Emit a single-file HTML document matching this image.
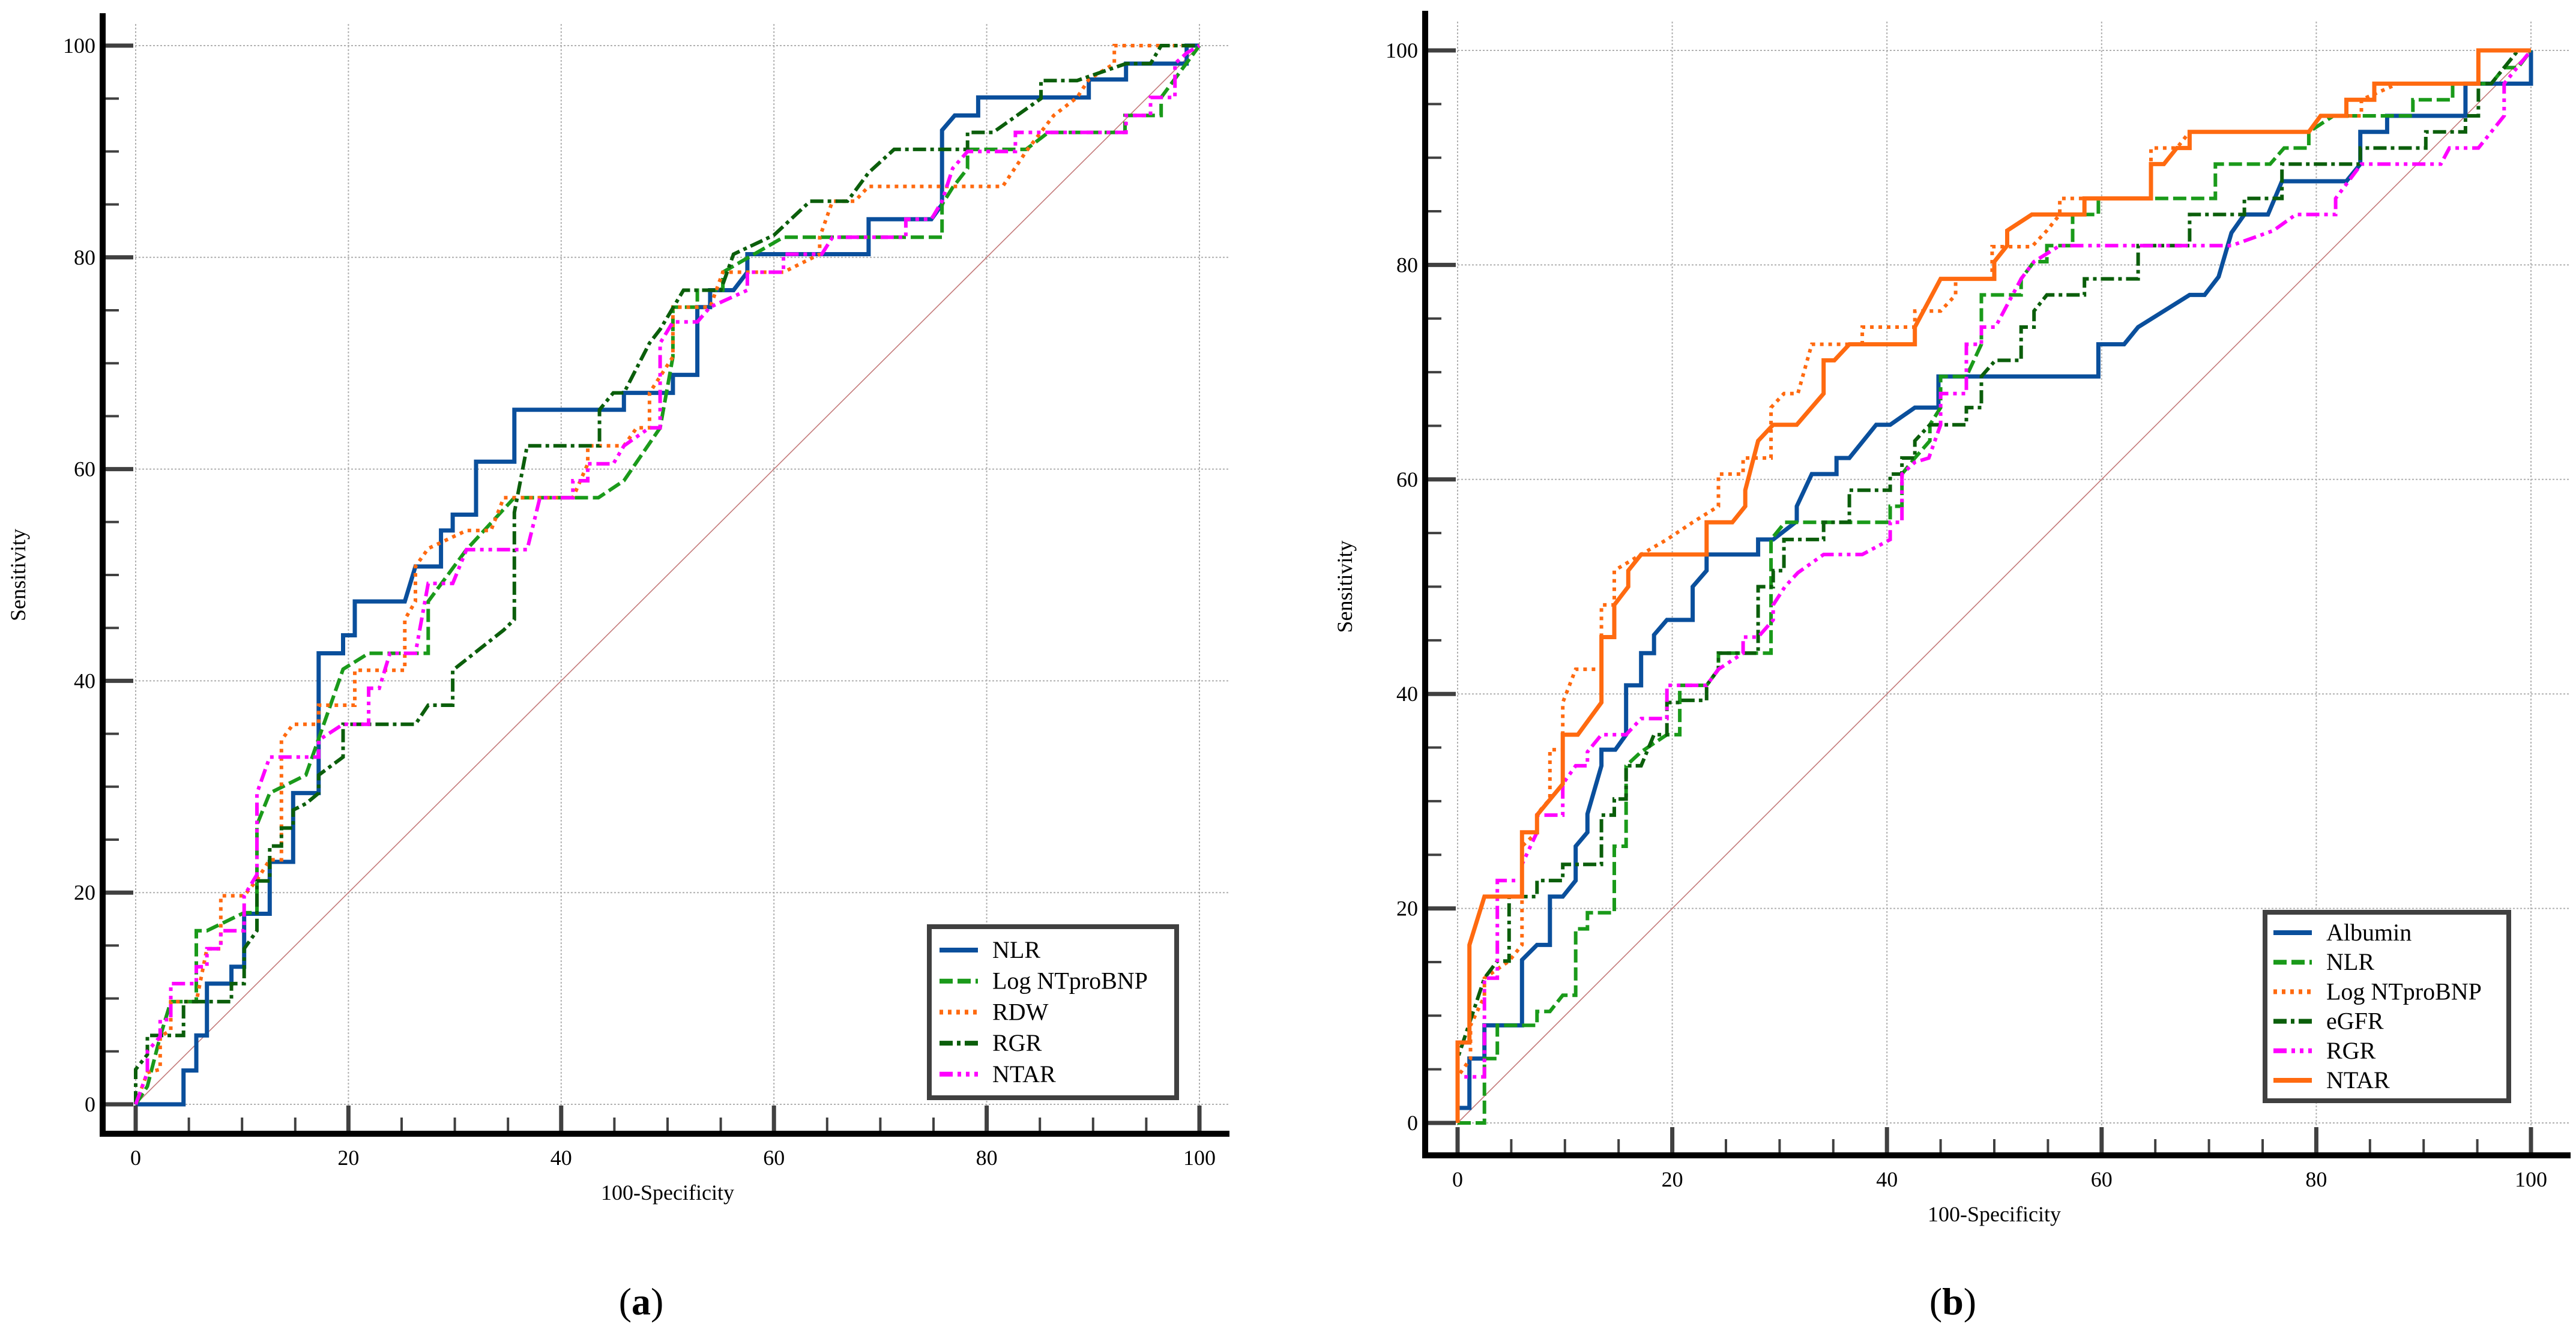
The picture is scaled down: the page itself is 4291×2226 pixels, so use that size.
<!DOCTYPE html>
<html><head><meta charset="utf-8"><style>
html,body{margin:0;padding:0;background:#fff}
svg{display:block}
text{font-family:"Liberation Serif",serif;fill:#000}
</style></head><body>
<svg id="fig" width="4291" height="2226" viewBox="0 0 4291 2226" xmlns="http://www.w3.org/2000/svg"></svg>
<script>
const ticks=[0,20,40,60,80,100];
const minorTicks=[0,5,10,15,20,25,30,35,40,45,50,55,60,65,70,75,80,85,90,95,100];
const a_nlr=[[0,0],[4.5,0],[4.5,3.2],[5.7,3.2],[5.7,6.5],[6.7,6.5],[6.7,11.4],[9.0,11.4],[9.0,13.0],[10.2,13.0],[10.2,18.0],[12.6,18.0],[12.6,22.9],[14.8,22.9],[14.8,29.4],[17.2,29.4],[17.2,42.6],[19.5,42.6],[19.5,44.3],[20.6,44.3],[20.6,47.5],[25.3,47.5],[26.3,50.8],[28.7,50.8],[28.7,54.2],[29.8,54.2],[29.8,55.7],[32.0,55.7],[32.0,60.7],[35.6,60.7],[35.6,65.6],[45.9,65.6],[45.9,67.2],[50.5,67.2],[50.5,68.9],[52.8,68.9],[52.8,75.3],[54.0,75.3],[54.0,76.9],[56.2,76.9],[57.5,78.6],[57.5,80.3],[68.9,80.3],[68.9,83.6],[74.8,83.6],[75.8,85.0],[75.8,92.0],[77.0,93.4],[79.2,93.4],[79.2,95.1],[89.6,95.1],[89.6,96.8],[93.1,96.8],[93.1,98.3],[98.8,98.3],[98.8,100],[100,100]];
const a_logbnp=[[0,0],[1.1,1.7],[2.3,6.4],[3.3,9.7],[5.7,9.7],[5.7,16.4],[6.7,16.4],[10.2,18.1],[11.4,18.1],[11.4,26.4],[12.6,29.4],[16.0,31.1],[19.5,41.1],[21.9,42.6],[27.5,42.6],[27.5,47.5],[31.1,52.4],[35.6,57.3],[43.5,57.3],[45.9,58.9],[49.3,63.9],[50.5,70.6],[50.5,75.3],[52.8,75.3],[52.8,76.9],[55.2,76.9],[55.2,78.6],[60.9,81.9],[75.8,81.9],[75.8,85.0],[76.8,86.6],[78.2,88.4],[78.2,90.2],[83.7,90.2],[85.8,91.8],[93.0,91.8],[93.0,93.4],[96.4,93.4],[96.4,95.1],[100,100]];
const a_rdw=[[0,0],[1.1,3.0],[2.3,3.3],[2.3,6.4],[3.3,7.0],[3.3,9.7],[5.7,9.7],[6.7,14.7],[8.0,14.7],[8.0,19.7],[10.2,19.7],[11.4,21.2],[12.6,23.1],[13.7,23.1],[13.7,34.4],[14.8,35.9],[17.2,35.9],[17.2,37.7],[20.6,37.7],[20.6,41.0],[25.3,41.0],[25.3,45.8],[26.3,47.5],[26.3,50.8],[27.5,52.5],[31.1,54.2],[33.4,54.2],[34.6,57.3],[41.1,57.3],[42.5,60.5],[42.5,62.2],[45.9,62.2],[47.1,63.9],[48.3,63.9],[48.3,67.2],[50.5,70.6],[50.5,75.3],[54.0,75.3],[55.2,78.6],[60.9,78.6],[64.3,80.3],[64.3,81.9],[65.5,85.3],[67.6,85.3],[68.9,86.7],[81.5,86.7],[83.7,90.0],[86.3,93.4],[88.5,95.1],[89.6,96.8],[92.0,98.3],[92.0,100],[100,100]];
const a_rgr=[[0,0],[0,3.3],[1.1,4.7],[1.1,6.5],[4.5,6.5],[4.5,9.7],[9.0,9.7],[9.0,11.4],[10.2,11.4],[10.2,14.7],[11.4,16.4],[11.4,21.1],[12.6,21.1],[12.6,24.4],[13.7,24.4],[13.7,26.1],[14.8,26.1],[14.8,27.8],[16.0,28.4],[17.2,29.4],[17.2,31.1],[19.5,32.8],[19.5,35.9],[26.3,35.9],[27.5,37.7],[29.8,37.7],[29.8,41.0],[34.6,44.8],[35.6,45.8],[35.6,55.9],[36.8,62.2],[43.6,62.2],[43.6,65.6],[44.9,67.2],[45.9,67.2],[48.3,71.9],[49.3,73.2],[51.5,76.9],[55.0,76.9],[56.2,80.3],[60.0,82.1],[63.4,85.3],[66.9,85.3],[68.9,88.0],[71.3,90.2],[78.2,90.2],[78.2,91.8],[80.6,91.8],[85.1,95.0],[85.1,96.7],[88.5,96.7],[93.1,98.3],[95.4,98.3],[96.4,100],[100,100]];
const a_ntar=[[0,0],[1.1,3.0],[1.1,5.0],[2.3,6.4],[2.3,8.0],[3.3,8.0],[3.3,11.4],[5.7,11.4],[5.7,13.0],[6.7,13.0],[6.7,14.7],[8.0,14.7],[8.0,16.4],[10.2,16.4],[10.2,19.7],[11.4,21.7],[11.4,29.4],[12.6,32.8],[17.2,32.8],[17.2,34.4],[19.5,35.9],[21.9,35.9],[21.9,39.3],[22.9,39.3],[23.9,42.6],[26.3,42.6],[27.5,49.2],[29.8,49.2],[31.1,52.4],[36.8,52.4],[38.0,57.3],[41.1,57.3],[41.1,58.9],[42.5,58.9],[42.5,60.5],[44.9,60.5],[45.9,62.2],[48.3,63.9],[49.3,63.9],[49.3,71.9],[50.5,73.9],[52.8,73.9],[54.0,75.3],[57.5,76.9],[57.5,78.6],[60.9,78.6],[60.9,80.3],[64.5,80.3],[65.5,81.9],[72.4,81.9],[72.4,83.6],[74.8,83.6],[75.8,85.3],[76.8,88.4],[78.2,90.0],[82.7,90.0],[82.7,91.8],[93.1,91.8],[93.1,93.4],[95.4,93.4],[95.4,95.1],[97.7,95.1],[97.7,98.3],[98.8,99.3],[100,100]];
const b_albumin=[[0,0],[0,1.4],[1.1,1.4],[1.1,6.0],[2.5,6.0],[2.5,9.1],[6.0,9.1],[6.0,15.2],[7.4,16.6],[8.6,16.6],[8.6,21.1],[9.8,21.1],[11.0,22.6],[11.0,25.8],[12.1,27.1],[12.1,28.8],[13.4,33.3],[13.4,34.8],[14.7,34.8],[15.7,36.2],[15.7,40.8],[17.1,40.8],[17.1,43.8],[18.3,43.8],[18.3,45.5],[19.5,46.9],[21.9,46.9],[21.9,50.0],[23.2,51.5],[23.2,53.0],[28.0,53.0],[28.0,54.4],[29.4,54.4],[31.6,56.1],[31.6,57.5],[33.0,60.5],[35.3,60.5],[35.3,62.0],[36.5,62.0],[39.0,65.1],[40.3,65.1],[42.6,66.7],[44.8,66.7],[44.8,69.6],[59.7,69.6],[59.7,72.6],[62.1,72.6],[63.4,74.2],[68.2,77.2],[69.6,77.2],[70.9,78.9],[72.1,83.0],[73.3,84.7],[75.5,84.7],[76.8,87.8],[82.8,87.8],[84.1,89.4],[84.1,92.4],[86.6,92.4],[86.6,93.9],[93.9,93.9],[93.9,96.9],[100,96.9],[100,100]];
const b_nlr=[[0,0],[2.5,0],[2.5,6.0],[3.7,6.0],[3.7,9.1],[7.4,9.1],[7.4,10.4],[8.6,10.4],[9.8,11.9],[11.0,11.9],[11.0,18.1],[12.1,18.1],[12.1,19.6],[14.6,19.6],[14.6,25.8],[15.7,25.8],[15.7,33.3],[17.1,34.6],[19.5,36.2],[20.7,36.2],[20.7,40.8],[23.2,40.8],[24.3,42.3],[24.3,43.8],[29.2,43.8],[29.2,54.4],[30.5,56.0],[40.3,56.0],[40.3,57.5],[41.4,57.5],[41.4,60.5],[42.6,62.0],[44.0,63.6],[44.0,65.1],[45.0,66.7],[45.0,69.6],[47.4,69.6],[48.8,72.6],[48.8,77.2],[52.5,77.2],[52.5,78.7],[53.7,80.3],[54.9,80.3],[54.9,81.8],[57.3,81.8],[57.3,84.7],[59.7,84.7],[59.7,86.2],[70.6,86.2],[70.6,89.4],[75.7,89.4],[77.0,90.9],[79.3,90.9],[79.3,92.4],[81.6,93.9],[89.0,93.9],[89.0,95.4],[92.7,95.4],[92.7,96.9],[96.3,96.9],[97.5,98.4],[98.8,98.4],[100,100]];
const b_logbnp=[[0,0],[0,4.3],[1.2,6.0],[1.2,9.1],[2.5,11.8],[2.5,13.5],[4.8,15.1],[6.0,16.6],[6.0,25.8],[7.4,27.1],[7.4,28.8],[8.6,30.2],[8.6,34.8],[9.8,34.8],[9.8,39.2],[11.0,42.3],[13.4,42.3],[13.4,48.3],[14.6,48.3],[14.6,51.5],[17.1,53.0],[19.5,54.4],[21.9,56.0],[24.3,57.5],[24.3,60.5],[26.6,60.5],[26.6,62.0],[29.2,62.0],[29.2,66.7],[30.4,68.0],[31.7,68.0],[33.0,72.6],[37.7,72.6],[37.7,74.2],[42.6,74.2],[42.6,75.7],[45.0,75.7],[46.4,77.2],[46.4,78.7],[49.8,78.7],[49.8,81.7],[53.5,81.7],[54.9,83.2],[56.1,84.7],[56.1,86.2],[64.6,86.2],[64.6,90.9],[67.0,90.9],[68.2,92.4],[79.3,92.4],[80.4,93.9],[84.2,93.9],[84.2,95.4],[87.6,96.9],[95.1,96.9],[95.1,100],[100,100]];
const b_egfr=[[0,0],[0,6.0],[2.5,13.5],[3.7,15.1],[4.8,15.1],[4.8,21.1],[7.4,21.1],[7.4,22.6],[9.8,22.6],[9.8,24.1],[13.4,24.1],[13.4,28.7],[14.6,28.7],[14.6,30.2],[15.7,30.2],[15.7,33.3],[17.1,33.3],[18.3,36.2],[19.5,36.2],[19.5,39.2],[20.7,39.2],[20.7,39.4],[23.2,39.4],[23.2,40.8],[24.3,42.3],[24.3,43.8],[28.0,43.8],[28.0,50.0],[29.4,50.0],[29.4,51.5],[30.4,51.5],[30.4,54.4],[34.1,54.4],[34.1,56.0],[36.5,56.0],[36.5,59.0],[40.3,59.0],[40.3,60.5],[41.4,60.5],[41.4,62.0],[42.6,62.0],[42.6,63.6],[44.0,65.1],[47.4,65.1],[47.4,66.7],[48.8,66.7],[48.8,69.6],[50.1,71.1],[52.5,71.1],[52.5,74.2],[53.7,74.2],[53.7,75.7],[54.9,77.2],[58.4,77.2],[58.4,78.7],[63.4,78.7],[63.4,81.8],[68.2,81.8],[68.2,84.7],[73.3,84.7],[73.3,86.2],[76.8,86.2],[76.8,89.4],[84.1,89.4],[84.1,90.9],[90.2,90.9],[90.2,92.4],[93.9,92.4],[93.9,93.9],[95.1,93.9],[95.1,96.9],[96.3,96.9],[98.8,100],[100,100]];
const b_rgr=[[0,0],[0,4.3],[2.5,4.3],[2.5,13.5],[3.7,13.5],[3.7,22.6],[6.0,22.6],[6.0,24.1],[7.4,27.1],[7.4,28.7],[9.8,28.7],[9.8,31.6],[11.0,33.3],[12.1,33.3],[12.1,34.6],[13.4,36.2],[15.7,36.2],[17.1,37.7],[19.5,37.7],[19.5,40.8],[23.2,40.8],[24.3,42.3],[26.6,43.8],[26.6,45.3],[28.0,45.3],[29.4,46.9],[29.4,48.3],[30.5,50.0],[31.7,51.3],[34.1,53.0],[37.7,53.0],[40.3,54.4],[40.3,56.0],[41.4,56.0],[41.4,60.5],[42.6,61.6],[43.9,62.0],[45.0,65.1],[45.0,68.0],[47.4,68.0],[47.4,72.6],[48.8,72.6],[48.8,74.2],[50.1,74.2],[52.5,78.7],[53.7,80.3],[56.1,81.8],[72.1,81.8],[76.0,83.2],[78.1,84.7],[81.8,84.7],[81.8,86.2],[84.2,89.4],[91.6,89.4],[92.4,90.9],[95.1,90.9],[97.5,93.9],[97.5,96.9],[100,100]];
const b_ntar=[[0,0],[0,7.5],[1.1,7.5],[1.1,16.6],[2.5,21.1],[6.0,21.1],[6.0,27.1],[7.4,27.1],[7.4,28.7],[9.8,31.6],[9.8,36.2],[11.2,36.2],[13.4,39.2],[13.4,45.3],[14.6,45.3],[14.6,48.3],[15.9,50.0],[15.9,51.5],[17.1,53.0],[23.2,53.0],[23.2,56.0],[25.6,56.0],[26.8,57.5],[26.8,59.0],[28.0,63.6],[29.4,65.1],[31.6,65.1],[34.1,68.0],[34.1,71.1],[35.1,71.1],[36.5,72.6],[42.6,72.6],[42.6,74.2],[45.0,78.7],[50.0,78.7],[50.0,80.3],[51.2,81.8],[51.2,83.2],[53.5,84.7],[58.4,84.7],[58.4,86.2],[64.6,86.2],[64.6,89.4],[65.8,89.4],[67.0,90.9],[68.2,90.9],[68.2,92.4],[79.3,92.4],[80.4,93.9],[82.8,93.9],[82.8,95.4],[85.4,95.4],[85.4,96.9],[95.1,96.9],[95.1,100],[100,100]];
const a_labels=["NLR","Log NTproBNP","RDW","RGR","NTAR"];
const b_labels=["Albumin","NLR","Log NTproBNP","eGFR","RGR","NTAR"];

const NS="http://www.w3.org/2000/svg";
const svg=document.getElementById('fig');
function mk(tag,attrs,parent){const e=document.createElementNS(NS,tag);for(const k in attrs)e.setAttribute(k,attrs[k]);(parent||svg).appendChild(e);return e;}
const ST={
 blue:{stroke:"#0a4f9c",w:7,dash:""},
 green:{stroke:"#1a9a1a",w:6,dash:"22 8"},
 orangeDot:{stroke:"#ff6a10",w:6,dash:"6 8"},
 dkgreen:{stroke:"#0b5e0b",w:6,dash:"22 7 6 7"},
 magenta:{stroke:"#ff00ff",w:6,dash:"22 8 6 8 6 8"},
 orange:{stroke:"#ff6a10",w:7,dash:""}
};
function chart(cfg){
 const g=mk('g',{});
 
 
 const X=v=>cfg.x0+(cfg.x1-cfg.x0)*v/100, Y=v=>cfg.y0-(cfg.y0-cfg.y1)*v/100;
 // grid
 ticks.forEach(t=>{
  const gl=mk('line',{x1:X(t),x2:X(t),y1:cfg.top,y2:cfg.axisY,stroke:"#b0b0b0","stroke-width":2,"stroke-dasharray":"3 3"},g);
  
  const gh=mk('line',{x1:cfg.axisX,x2:cfg.right,y1:Y(t),y2:Y(t),stroke:"#b0b0b0","stroke-width":2,"stroke-dasharray":"3 3"},g);
  
 });
 // diagonal
 const d=mk('line',{x1:X(0),y1:Y(0),x2:X(100),y2:Y(100),stroke:"#c47a7a","stroke-width":1.6},g);
 
 // series
 cfg.series.forEach(s=>{
  const st=ST[s.style];
  const p=mk('polyline',{points:s.data.map(q=>X(q[0]).toFixed(1)+","+Y(q[1]).toFixed(1)).join(" "),fill:"none",stroke:st.stroke,"stroke-width":st.w,"stroke-dasharray":st.dash,"stroke-linejoin":"miter"},g);
  
 });
 // ticks
 minorTicks.forEach(t=>{
  const major=t%20===0;
  const tx=mk('line',{x1:X(t),x2:X(t),y1:cfg.axisY-5,y2:cfg.axisY-5-(major?42:22),stroke:"#404040","stroke-width":major?7:4},g);
  
  const ty=mk('line',{x1:cfg.axisX+5,x2:cfg.axisX+5+(major?46:22),y1:Y(t),y2:Y(t),stroke:"#404040","stroke-width":major?7:4},g);
  
 });
 // axes
 const ax=mk('line',{x1:cfg.axisX,x2:cfg.axisX,y1:cfg.top-18,y2:cfg.axisY+5,stroke:"#000","stroke-width":10},g);
 
 const ay=mk('line',{x1:cfg.axisX-5,x2:cfg.right,y1:cfg.axisY,y2:cfg.axisY,stroke:"#000","stroke-width":10},g);
 
 // tick labels
 ticks.forEach(t=>{
  const lx=mk('text',{x:X(t),y:cfg.axisY+52,"font-size":36,"text-anchor":"middle"},g);lx.textContent=t;
  
  const ly=mk('text',{x:cfg.axisX-12,y:Y(t)+12,"font-size":36,"text-anchor":"end"},g);ly.textContent=t;
  
 });
 const xt=mk('text',{x:(X(0)+X(100))/2,y:cfg.axisY+110,"font-size":36,"text-anchor":"middle"},g);xt.textContent="100-Specificity";
 
 const yt=mk('text',{x:0,y:0,"font-size":36,"text-anchor":"middle",transform:`translate(${cfg.ytX},${(Y(0)+Y(100))/2}) rotate(-90)`},g);yt.textContent="Sensitivity";
 
 // legend
 const L=cfg.legend;
 const lg=mk('g',{},g);
 
 mk('rect',{x:L.x,y:L.y,width:L.w,height:L.h,fill:"#fff",stroke:"#404040","stroke-width":8},lg);
 cfg.series.forEach((s,i)=>{
  const st=ST[s.style];const yy=L.ey0+i*L.step;
  const e=mk('g',{},lg);
  
  mk('line',{x1:L.lx,x2:L.lx+64,y1:yy,y2:yy,stroke:st.stroke,"stroke-width":8,"stroke-dasharray":st.dash},e);
  const t=mk('text',{x:L.lx+88,y:yy+13,"font-size":40},e);t.textContent=cfg.labels[i];
 });
 const cap=mk('text',{x:cfg.capX,y:2190,"font-size":64,"text-anchor":"middle"},g);
 cap.innerHTML='(<tspan font-weight="bold">'+cfg.cap+'</tspan>)';
 
}
chart({name:'chart-a',x0:226,x1:1998,y0:1840,y1:76,axisX:171,axisY:1889,top:40,right:2048,ytX:42,capX:1068,cap:'a',labels:a_labels,
 legend:{x:1548,y:1544,w:412,h:285,lx:1565,ey0:1583,step:51.7},
 series:[{id:'nlr-curve',data:a_nlr,style:'blue'},{id:'log-ntprobnp-curve',data:a_logbnp,style:'green'},{id:'rdw-curve',data:a_rdw,style:'orangeDot'},{id:'rgr-curve',data:a_rgr,style:'dkgreen'},{id:'ntar-curve',data:a_ntar,style:'magenta'}]});
chart({name:'chart-b',x0:2428,x1:4216,y0:1871,y1:84,axisX:2374,axisY:1925,top:36,right:4282,ytX:2252,capX:3253,cap:'b',labels:b_labels,
 legend:{x:3773,y:1520,w:406,h:314,lx:3787,ey0:1554,step:49.2},
 series:[{id:'albumin-curve',data:b_albumin,style:'blue'},{id:'nlr-curve',data:b_nlr,style:'green'},{id:'log-ntprobnp-curve',data:b_logbnp,style:'orangeDot'},{id:'egfr-curve',data:b_egfr,style:'dkgreen'},{id:'rgr-curve',data:b_rgr,style:'magenta'},{id:'ntar-curve',data:b_ntar,style:'orange'}]});
</script>
</body></html>
